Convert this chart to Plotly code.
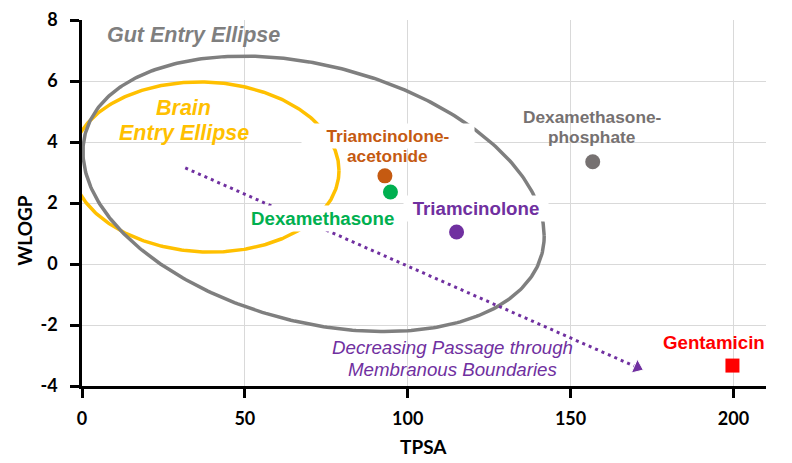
import numpy as np
import plotly.graph_objects as go

# ---- data ----
compounds = ["Triamcinolone-acetonide", "Dexamethasone", "Triamcinolone",
             "Dexamethasone-phosphate", "Gentamicin"]
tpsa = [93.0, 94.7, 115.0, 156.8, 199.7]
wlogp = [2.89, 2.36, 1.05, 3.35, -3.33]
point_colors = ["#C55A11", "#00B050", "#7030A0", "#767171", "#FF0000"]
point_symbols = ["circle", "circle", "circle", "circle", "square"]

# ellipse parameters: centre (TPSA, WLOGP), half-width, tilt term, half-height term
brain_ellipse = dict(cx=37.8, cy=3.18, rx=41.1, c=-0.12, d=2.786)
gut_ellipse = dict(cx=71.1, cy=2.30, rx=70.8, c=-1.38, d=4.30)

# trend arrow (TPSA, WLOGP)
arrow_x = [31.7, 170.5]
arrow_y = [3.15, -3.39]

x_ticks = [0, 50, 100, 150, 200]
x_tick_labels = ["0", "50", "100", "150", "200"]
y_ticks = [-4, -2, 0, 2, 4, 6, 8]
y_tick_labels = ["-4", "-2", "0", "2", "4", "6", "8"]

LABEL_FONT = "Liberation Sans, Arial, sans-serif"
TICK_FONT = "Lato, Calibri, sans-serif"


def ellipse(cx, cy, rx, c, d, n=400):
    t = np.linspace(0, 2 * np.pi, n)
    return cx + rx * np.cos(t), cy + c * np.cos(t) + d * np.sin(t)


fig = go.Figure()

bx, by = ellipse(**brain_ellipse)
fig.add_trace(go.Scatter(x=bx, y=by, mode="lines",
                         line=dict(color="#FFC000", width=3.5),
                         hoverinfo="skip", showlegend=False))
gx, gy = ellipse(**gut_ellipse)
fig.add_trace(go.Scatter(x=gx, y=gy, mode="lines",
                         line=dict(color="#7F7F7F", width=3.5),
                         hoverinfo="skip", showlegend=False))

fig.add_trace(go.Scatter(x=arrow_x, y=arrow_y, mode="lines+markers",
                         line=dict(color="#7030A0", width=3, dash="3px,4px"),
                         marker=dict(symbol=["circle", "triangle-up"], size=[0, 13],
                                     angleref="previous", color="#7030A0", opacity=1),
                         hoverinfo="skip", showlegend=False))

fig.add_trace(go.Scatter(x=tpsa, y=wlogp, mode="markers", text=compounds,
                         marker=dict(color=point_colors, symbol=point_symbols,
                                     size=[15, 15, 15, 15, 14], opacity=1,
                                     line=dict(width=0)),
                         showlegend=False))

# ---- labels ----
def label(text, x, y, color, size, bg=None, width=None, xanchor="center",
          xref="x", **kw):
    fig.add_annotation(text=text, x=x, y=y, xref=xref, yref="y", showarrow=False,
                       xanchor=xanchor, yanchor="middle",
                       font=dict(family=LABEL_FONT, size=size, color=color),
                       bgcolor=bg, width=width, borderpad=2, **kw)

label("<b>Triamcinolone-</b>", 93.8, 4.20, "#C55A11", 17.3, bg="white", width=168)
label("<b>acetonide</b>", 93.8, 3.54, "#C55A11", 17.3)
label("<b>Dexamethasone</b>", 73.7, 1.49, "#00B050", 18.7, bg="white")
label("<b>Triamcinolone</b>", 121.0, 1.82, "#7030A0", 18.7, bg="white", width=140)
label("<b>Dexamethasone-</b>", 156.7, 4.82, "#767171", 17.3)
label("<b>phosphate</b>", 156.7, 4.16, "#767171", 17.3)
label("<b>Gentamicin</b>", 1.0035, -2.57, "#FF0000", 18.7, xanchor="right", xref="paper")
label("<b><i>Gut Entry Ellipse</i></b>", 34.2, 7.52, "#7F7F7F", 21.5)
label("<b><i>Brain</i></b>", 31.3, 5.13, "#FFC000", 21.5)
label("<b><i>Entry Ellipse</i></b>", 31.3, 4.31, "#FFC000", 21.5)
label("<i>Decreasing Passage through</i>", 113.9, -2.74, "#7030A0", 18.7)
label("<i>Membranous Boundaries</i>", 113.9, -3.46, "#7030A0", 18.7)

# axis titles
fig.add_annotation(text="<b>WLOGP</b>", xref="paper", yref="y", x=-0.084, y=1.11,
                   textangle=-90, showarrow=False, xanchor="center", yanchor="middle",
                   font=dict(family=TICK_FONT, size=19, color="black"))
fig.add_annotation(text="<b>TPSA</b>", xref="x", yref="paper", x=104.7, y=-0.164,
                   showarrow=False, xanchor="center", yanchor="middle",
                   font=dict(family=TICK_FONT, size=19, color="black"))

axis_common = dict(showline=True, linecolor="black", linewidth=2.5,
                   ticks="outside", ticklen=9, tickwidth=2.5, tickcolor="black",
                   showgrid=True, gridcolor="#D9D9D9", gridwidth=1,
                   zeroline=False, automargin=False,
                   tickfont=dict(family=TICK_FONT, size=18, color="black", weight="bold"))

fig.update_xaxes(range=[0, 210], tickvals=x_ticks, ticktext=x_tick_labels,
                 ticklabelstandoff=6, **axis_common)
fig.update_yaxes(range=[-4, 8], tickvals=y_ticks, ticktext=y_tick_labels,
                 ticklabelstandoff=9, **axis_common)

# page body adds an 8px margin, so the figure is offset to compensate
fig.update_layout(width=784, height=455,
                  margin=dict(l=74, r=26, t=12, b=77),
                  plot_bgcolor="white", paper_bgcolor="white")

fig.write_html("out.html")
